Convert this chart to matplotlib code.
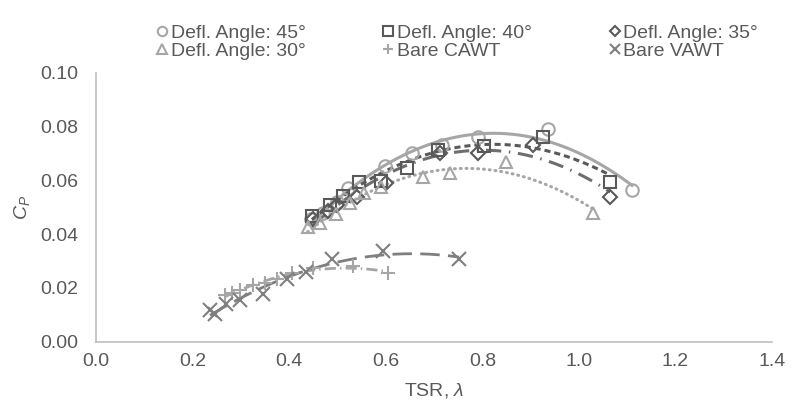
import numpy as np
import matplotlib
matplotlib.use("Agg")
import matplotlib.pyplot as plt

plt.rcParams['font.family'] = ['Liberation Sans', 'DejaVu Sans']
plt.rcParams['mathtext.fontset'] = 'custom'
plt.rcParams['mathtext.it'] = 'Liberation Sans:italic'
plt.rcParams['mathtext.rm'] = 'Liberation Sans'

# ---- data ----
x45 = [0.446, 0.470, 0.500, 0.522, 0.598, 0.654, 0.716, 0.792, 0.936, 1.110]
y45 = [0.0455, 0.0480, 0.0520, 0.0571, 0.0654, 0.0701, 0.0732, 0.0763, 0.0790, 0.0564]

x40 = [0.447, 0.484, 0.512, 0.544, 0.591, 0.643, 0.709, 0.803, 0.925, 1.065]
y40 = [0.0468, 0.0509, 0.0542, 0.0595, 0.0599, 0.0647, 0.0713, 0.0728, 0.0763, 0.0595]

x35 = [0.450, 0.480, 0.500, 0.540, 0.600, 0.712, 0.792, 0.905, 1.065]
y35 = [0.0455, 0.0488, 0.0510, 0.0540, 0.0590, 0.0701, 0.0703, 0.0732, 0.0537]

x30 = [0.438, 0.464, 0.497, 0.526, 0.555, 0.591, 0.678, 0.733, 0.849, 1.030]
y30 = [0.0426, 0.0440, 0.0475, 0.0516, 0.0552, 0.0577, 0.0612, 0.0627, 0.0670, 0.0480]

xcawt = [0.267, 0.281, 0.298, 0.326, 0.350, 0.374, 0.405, 0.450, 0.533, 0.605]
ycawt = [0.0174, 0.0180, 0.0192, 0.0211, 0.0217, 0.0232, 0.0254, 0.0273, 0.0282, 0.0254]

xvawt = [0.236, 0.246, 0.270, 0.298, 0.345, 0.395, 0.435, 0.488, 0.595, 0.752]
yvawt = [0.0118, 0.0103, 0.0140, 0.0155, 0.0177, 0.0232, 0.0260, 0.0306, 0.0339, 0.0306]

labels = ['Defl. Angle: 45°', 'Defl. Angle: 40°', 'Defl. Angle: 35°',
          'Defl. Angle: 30°', 'Bare CAWT', 'Bare VAWT']
xticks = [0.0, 0.2, 0.4, 0.6, 0.8, 1.0, 1.2, 1.4]
yticks = [0.00, 0.02, 0.04, 0.06, 0.08, 0.10]

LG = '#A6A6A6'
MG = '#7F7F7F'
DG = '#595959'

fig = plt.figure(figsize=(7.95, 4.11), dpi=100)
ax = fig.add_axes([0.1208, 0.1686, 0.8503, 0.6538])

series = [
    (x45, y45, 'o', LG, dict(ls='-', color=LG, lw=2.2), 2),
    (x40, y40, 's', DG, dict(ls=(0, (2.0, 1.3)), color=DG, lw=2.2), 2),
    (x35, y35, 'D', DG, dict(ls=(0, (5.0, 2.5, 0.5, 2.5)), color='#6E6E6E', lw=2.2), 2),
    (x30, y30, '^', LG, dict(ls=(0, (0.3, 1.6)), color=LG, lw=2.2, dash_capstyle='round'), 2),
    (xcawt, ycawt, '+', LG, dict(ls=(0, (4.0, 1.5, 0.5, 1.5)), color=LG, lw=2.0), 2),
    (xvawt, yvawt, 'x', MG, dict(ls=(0, (7.0, 3.0)), color=MG, lw=2.0), 2),
]

handles = []
for (xs, ys, m, c, lkw, deg), lab in zip(series, labels):
    xs = np.asarray(xs); ys = np.asarray(ys)
    ms = 9 if m not in ('D',) else 7
    if m in ('+', 'x'):
        h, = ax.plot(xs, ys, ls='none', marker=m, ms=10, mew=1.5, color=c, label=lab, zorder=3)
    else:
        h, = ax.plot(xs, ys, ls='none', marker=m, ms=ms, mew=1.5, mfc='none', mec=c, label=lab, zorder=3)
    handles.append(h)
    p = np.polyfit(xs, ys, deg)
    xf = np.linspace(xs.min(), xs.max(), 200)
    ax.plot(xf, np.polyval(p, xf), zorder=2, **lkw)

ax.set_xlim(0, 1.4)
ax.set_ylim(0, 0.10)
ax.set_xticks(xticks)
ax.set_yticks(yticks)
ax.set_xticklabels([f'{t:.1f}' for t in xticks])
ax.set_yticklabels([f'{t:.2f}' for t in yticks])
ax.tick_params(length=0, labelsize=14, labelcolor=DG)
ax.tick_params(axis='x', pad=8)
ax.tick_params(axis='y', pad=13)
for s in ['top', 'right']:
    ax.spines[s].set_visible(False)
for s in ['left', 'bottom']:
    ax.spines[s].set_color('#BFBFBF')
    ax.spines[s].set_linewidth(1.2)

ax.set_xlabel(r'TSR, $\mathit{\lambda}$', fontsize=14, color=DG, labelpad=8)
ax.set_ylabel(r'$\mathit{C_P}$', fontsize=14, color=DG, labelpad=6)

order = [0, 3, 1, 4, 2, 5]
leg = fig.legend([handles[i] for i in order], [labels[i] for i in order],
                 ncol=3, loc='center', bbox_to_anchor=(0.575, 0.898), frameon=False,
                 fontsize=14, handlelength=0.6, handletextpad=0.15, columnspacing=3.95,
                 labelspacing=0.0, markerscale=0.75, borderpad=0.2)
for t in leg.get_texts():
    t.set_color(DG)

fig.savefig('out.png', dpi=100)
